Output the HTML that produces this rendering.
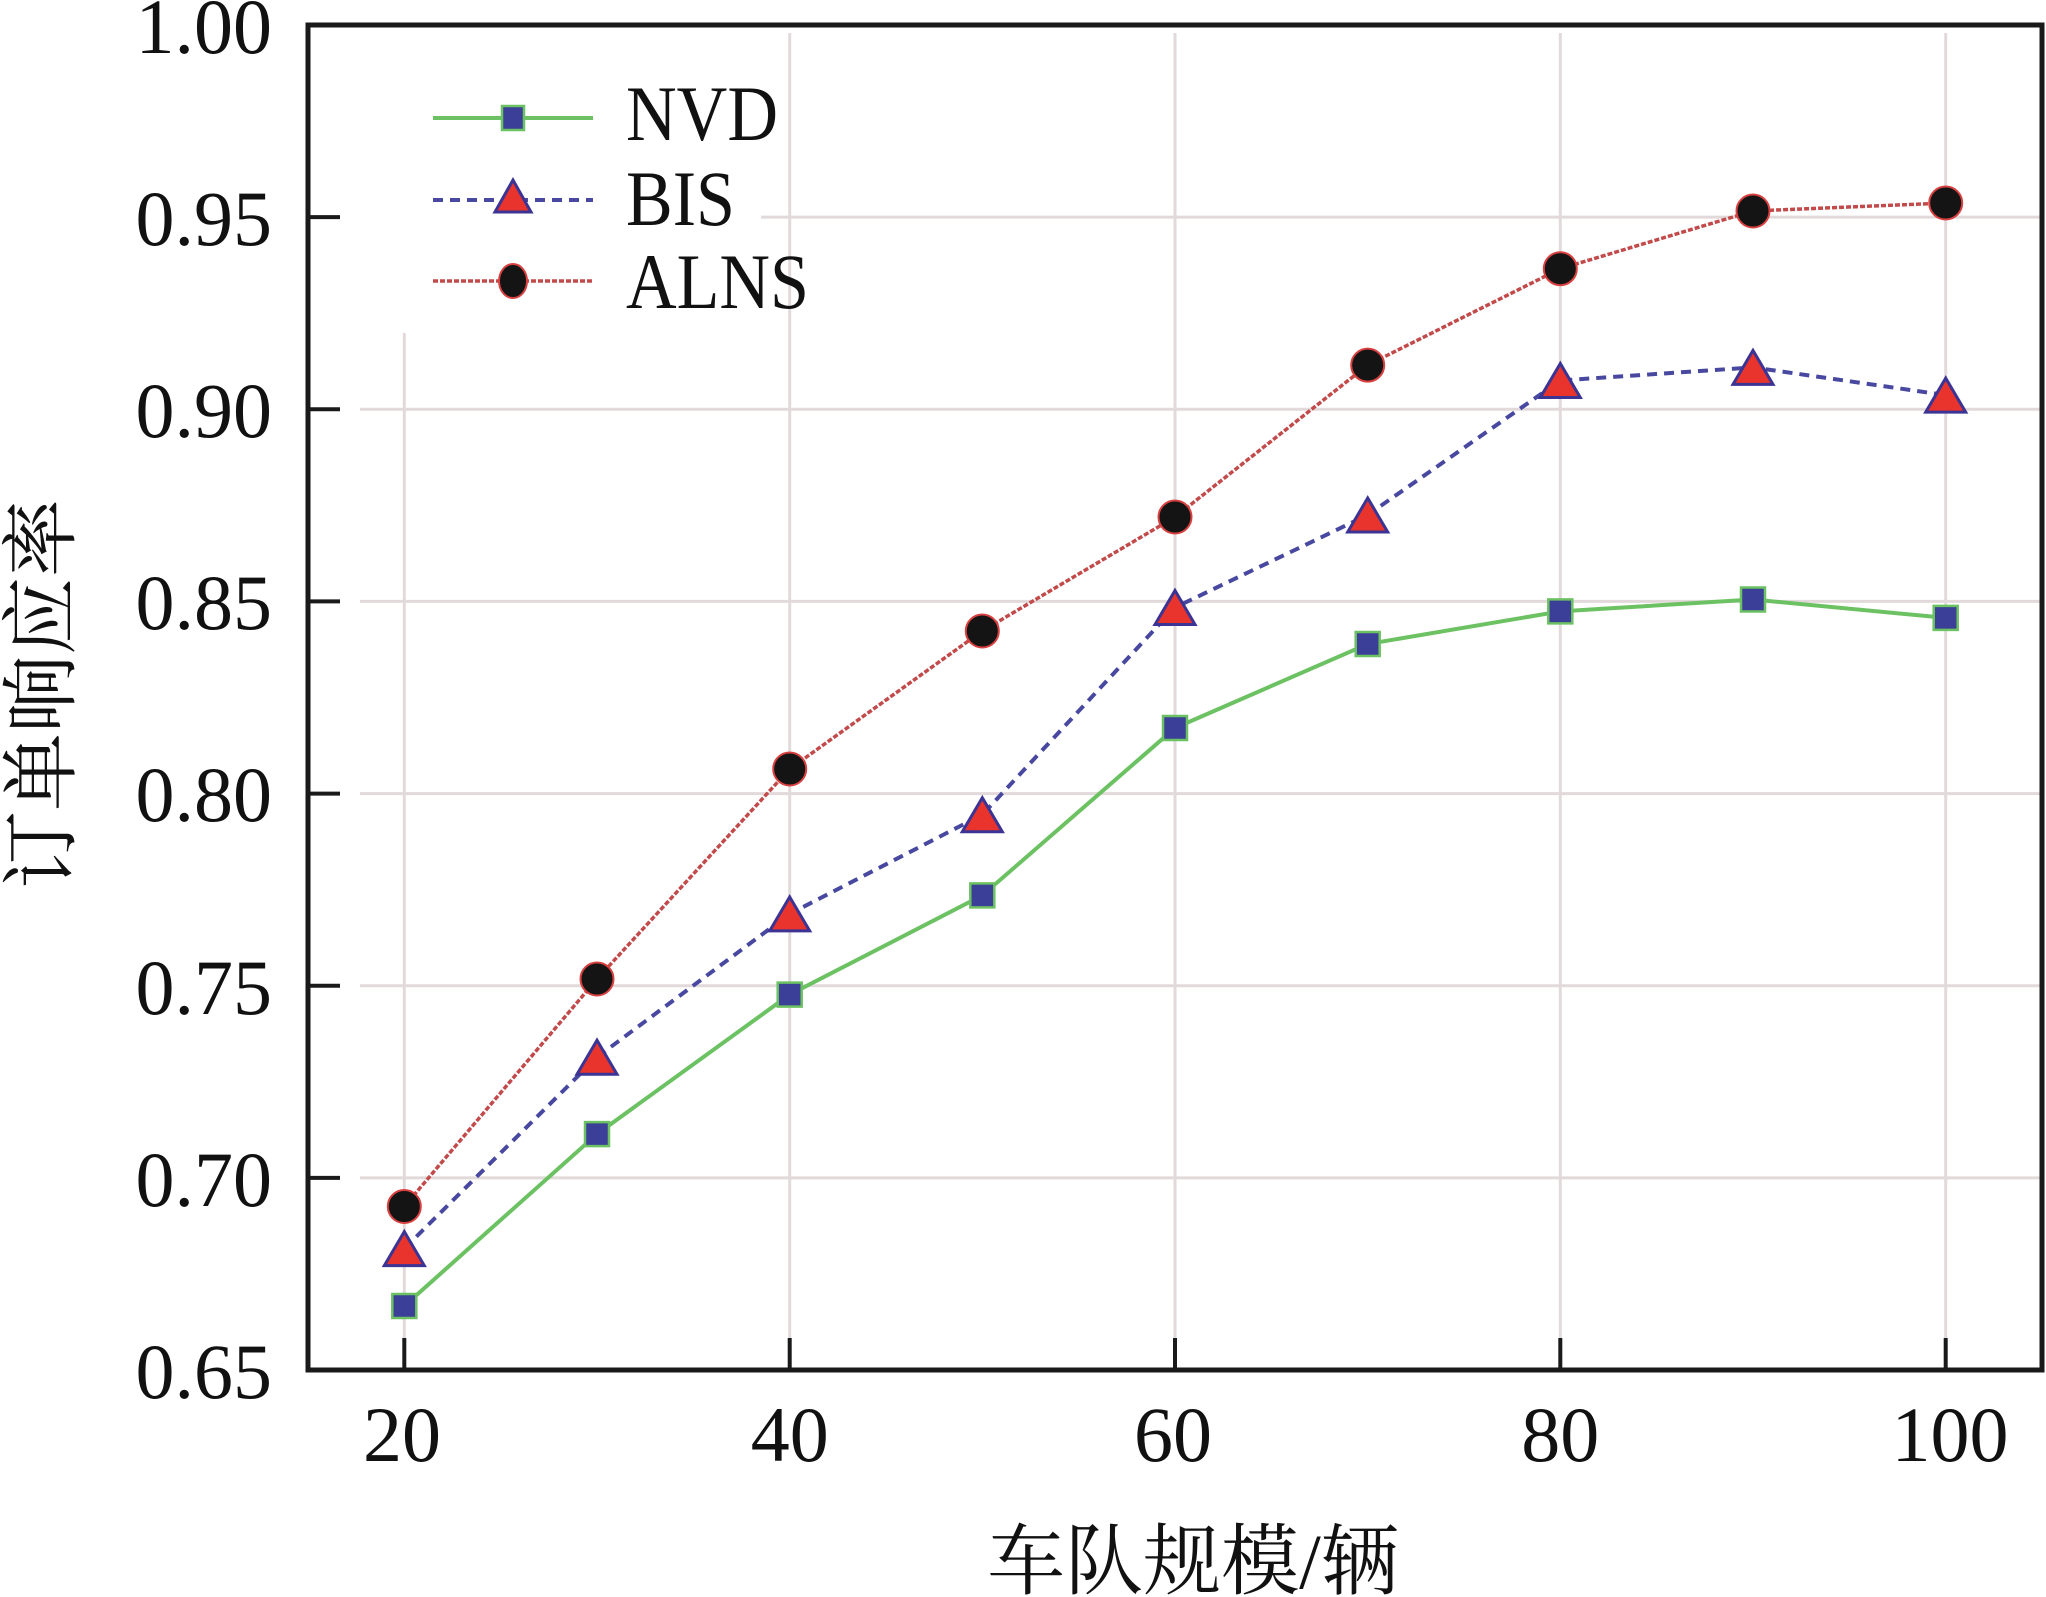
<!DOCTYPE html>
<html>
<head>
<meta charset="utf-8">
<style>
html,body{margin:0;padding:0;background:#fff;}
svg{display:block;}
text{font-family:"Liberation Serif","Noto Serif CJK SC",serif;fill:#111;}
</style>
</head>
<body>
<svg width="2046" height="1597" viewBox="0 0 2046 1597" xmlns="http://www.w3.org/2000/svg">
<rect width="2046" height="1597" fill="#fff"/>
<!-- grid -->
<g stroke="#e2dada" stroke-width="3">
<line x1="360" y1="217.1" x2="2040" y2="217.1"/>
<line x1="360" y1="409.3" x2="2040" y2="409.3"/>
<line x1="360" y1="601.4" x2="2040" y2="601.4"/>
<line x1="360" y1="793.6" x2="2040" y2="793.6"/>
<line x1="360" y1="985.7" x2="2040" y2="985.7"/>
<line x1="360" y1="1177.9" x2="2040" y2="1177.9"/>
<line x1="404.3" y1="33" x2="404.3" y2="1368"/>
<line x1="789.7" y1="33" x2="789.7" y2="1368"/>
<line x1="1175" y1="33" x2="1175" y2="1368"/>
<line x1="1560.3" y1="33" x2="1560.3" y2="1368"/>
<line x1="1945.7" y1="33" x2="1945.7" y2="1368"/>
</g>
<!-- legend background -->
<rect x="320" y="30" width="441" height="303" fill="#fff"/>
<!-- NVD -->
<polyline fill="none" stroke="#6cc262" stroke-width="4" points="404.3,1306 597,1134.1 789.7,994.6 982.3,895.4 1175,728 1367.7,644 1560.3,611.4 1753,599.5 1945.7,617.9"/>
<!-- BIS -->
<polyline fill="none" stroke="#4848a0" stroke-width="4" stroke-dasharray="10 7" points="404.3,1248.6 597,1057.2 789.7,913.9 982.3,814.7 1175,607.5 1367.7,515 1560.3,380.5 1753,367.4 1945.7,395.1"/>
<!-- ALNS -->
<polyline fill="none" stroke="#c24a4a" stroke-width="3.5" stroke-dasharray="5 2" points="404.3,1206.5 597,979 789.7,769 982.3,631 1175,517 1367.7,365.1 1560.3,268.7 1753,211 1945.7,203"/>
<!-- markers NVD -->
<g fill="#3b3f98" stroke="#6cc262" stroke-width="2.5">
<rect x="392.3" y="1294" width="24" height="24"/>
<rect x="585" y="1122.1" width="24" height="24"/>
<rect x="777.7" y="982.6" width="24" height="24"/>
<rect x="970.3" y="883.4" width="24" height="24"/>
<rect x="1163" y="716" width="24" height="24"/>
<rect x="1355.7" y="632" width="24" height="24"/>
<rect x="1548.3" y="599.4" width="24" height="24"/>
<rect x="1741" y="587.5" width="24" height="24"/>
<rect x="1933.7" y="605.9" width="24" height="24"/>
</g>
<!-- markers BIS -->
<g fill="#e8342c" stroke="#3b3494" stroke-width="3" stroke-linejoin="miter">
<polygon points="404.3,1231.6 384.3,1265.6 424.3,1265.6"/>
<polygon points="597,1040.2 577,1074.2 617,1074.2"/>
<polygon points="789.7,896.9 769.7,930.9 809.7,930.9"/>
<polygon points="982.3,797.7 962.3,831.7 1002.3,831.7"/>
<polygon points="1175,590.5 1155,624.5 1195,624.5"/>
<polygon points="1367.7,498 1347.7,532 1387.7,532"/>
<polygon points="1560.3,363.5 1540.3,397.5 1580.3,397.5"/>
<polygon points="1753,350.4 1733,384.4 1773,384.4"/>
<polygon points="1945.7,378.1 1925.7,412.1 1965.7,412.1"/>
</g>
<!-- markers ALNS -->
<g fill="#141414" stroke="#d94040" stroke-width="2">
<circle cx="404.3" cy="1206.5" r="16.5"/>
<circle cx="597" cy="979" r="16.5"/>
<circle cx="789.7" cy="769" r="16.5"/>
<circle cx="982.3" cy="631" r="16.5"/>
<circle cx="1175" cy="517" r="16.5"/>
<circle cx="1367.7" cy="365.1" r="16.5"/>
<circle cx="1560.3" cy="268.7" r="16.5"/>
<circle cx="1753" cy="211" r="16.5"/>
<circle cx="1945.7" cy="203" r="16.5"/>
</g>
<!-- legend -->
<line x1="433" y1="118" x2="593" y2="118" stroke="#6cc262" stroke-width="4"/>
<rect x="502" y="106" width="22" height="24" fill="#3b3f98" stroke="#6cc262" stroke-width="2.5"/>
<line x1="433" y1="200" x2="593" y2="200" stroke="#4848a0" stroke-width="4" stroke-dasharray="10 7"/>
<polygon points="513,180 495,212 531,212" fill="#e8342c" stroke="#3b3494" stroke-width="3"/>
<line x1="433" y1="281" x2="593" y2="281" stroke="#c24a4a" stroke-width="3.5" stroke-dasharray="5 2"/>
<ellipse cx="513" cy="281" rx="14" ry="17" fill="#141414" stroke="#d94040" stroke-width="2"/>
<text x="626" y="140" font-size="78" textLength="152" lengthAdjust="spacingAndGlyphs">NVD</text>
<text x="626" y="225" font-size="78" textLength="109" lengthAdjust="spacingAndGlyphs">BIS</text>
<text x="626" y="308" font-size="78" textLength="183" lengthAdjust="spacingAndGlyphs">ALNS</text>
<!-- axes frame -->
<rect x="308" y="25" width="1734" height="1345" fill="none" stroke="#1a1a1a" stroke-width="5"/>
<!-- ticks -->
<g stroke="#1a1a1a" stroke-width="4">
<line x1="308" y1="217.1" x2="340" y2="217.1"/>
<line x1="308" y1="409.3" x2="340" y2="409.3"/>
<line x1="308" y1="601.4" x2="340" y2="601.4"/>
<line x1="308" y1="793.6" x2="340" y2="793.6"/>
<line x1="308" y1="985.7" x2="340" y2="985.7"/>
<line x1="308" y1="1177.9" x2="340" y2="1177.9"/>
<line x1="404.3" y1="1338" x2="404.3" y2="1370"/>
<line x1="789.7" y1="1338" x2="789.7" y2="1370"/>
<line x1="1175" y1="1338" x2="1175" y2="1370"/>
<line x1="1560.3" y1="1338" x2="1560.3" y2="1370"/>
<line x1="1945.7" y1="1338" x2="1945.7" y2="1370"/>
</g>
<!-- y tick labels -->
<g font-size="78" text-anchor="end">
<text x="272" y="53">1.00</text>
<text x="272" y="245">0.95</text>
<text x="272" y="437">0.90</text>
<text x="272" y="629">0.85</text>
<text x="272" y="821">0.80</text>
<text x="272" y="1014">0.75</text>
<text x="272" y="1206">0.70</text>
<text x="272" y="1398">0.65</text>
</g>
<!-- x tick labels -->
<g font-size="78" text-anchor="middle">
<text x="402" y="1461">20</text>
<text x="789.7" y="1461">40</text>
<text x="1173" y="1461">60</text>
<text x="1560.3" y="1461">80</text>
<text x="1950" y="1461">100</text>
</g>
<!-- axis labels -->
<text x="1193" y="1588" font-size="78" text-anchor="middle">车队规模/辆</text>
<text transform="translate(68,694) rotate(-90)" font-size="78" text-anchor="middle">订单响应率</text>
</svg>
</body>
</html>
